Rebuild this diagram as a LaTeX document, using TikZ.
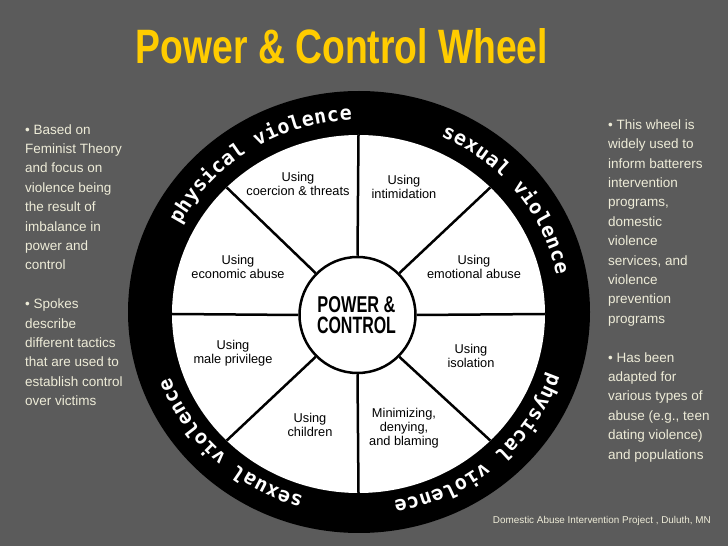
\documentclass[tikz,border=0pt]{standalone}
\usepackage{fontspec}
\setmainfont{Liberation Sans}
\newfontfamily\ringfont{DejaVu Sans Mono}
\usetikzlibrary{decorations.text}
\definecolor{bg}{HTML}{5B5B5B}
\definecolor{gold}{HTML}{FFCC00}
\definecolor{cream}{HTML}{EEECD8}
\begin{document}
\begin{tikzpicture}[x=1pt,y=1pt,
  side/.style={anchor=north west, inner sep=0, align=left, text=cream, font=\fontsize{13.5}{19.4}\selectfont},
  lbl/.style={align=center, inner sep=0, font=\fontsize{12.8}{14}\selectfont},
  spoke/.style={line width=2.5pt},
  ringtext/.style={decorate, decoration={text along path, text align={fit to path}, text={|\ringfont\bfseries\fontsize{20}{20}\selectfont\color{white}|#1}}}
]
\fill[bg] (0,0) rectangle (728,546);
\useasboundingbox (0,0) rectangle (728,546);

\node[text=gold, inner sep=0] (title) at (342,500.2) {\resizebox{412pt}{35pt}{\bfseries Power \& Control Wheel}};

\coordinate (oc) at (359,234);
\coordinate (ic) at (358.5,232);
\fill[black] (oc) ellipse [x radius=231pt, y radius=221pt];
\fill[white] (ic) ellipse [x radius=186.5pt, y radius=179pt];

\node[circle, draw, line width=2.5pt, fill=white, minimum size=116pt, inner sep=0] (hub) at (357.5,231) {};
\foreach \a in {0,45,...,315} {
  \coordinate (e\a) at ([shift={(\a:186.5pt and 179pt)}]ic);
  \draw[spoke] (hub.\a) -- (e\a);
}
\node[inner sep=0] (pw) at (356.5,241) {\resizebox{78pt}{16pt}{\bfseries POWER \&}};
\node[inner sep=0] (ct) at (356.5,221) {\resizebox{79pt}{16.5pt}{\bfseries CONTROL}};

\path[ringtext={physical violence}, shift={(oc)}] (153:201pt and 192pt) arc[start angle=153, end angle=92, x radius=201pt, y radius=192pt];
\path[ringtext={sexual violence}, shift={(oc)}] (66:201pt and 192pt) arc[start angle=66, end angle=11, x radius=201pt, y radius=192pt];
\path[ringtext={physical violence}, shift={(oc)}] (-18.5:201pt and 192pt) arc[start angle=-18.5, end angle=-80, x radius=201pt, y radius=192pt];
\path[ringtext={sexual violence}, shift={(oc)}] (-106:201pt and 192pt) arc[start angle=-106, end angle=-160, x radius=201pt, y radius=192pt];

\node[lbl] (l1) at (298,362.5) {Using\\coercion \& threats};
\node[lbl] (l2) at (404,359.3) {Using\\intimidation};
\node[lbl] (l3) at (238,279) {Using\\economic abuse};
\node[lbl] (l4) at (474,279.5) {Using\\emotional abuse};
\node[lbl] (l5) at (233,193) {Using\\male privilege};
\node[lbl] (l6) at (471,190) {Using\\isolation};
\node[lbl] (l7) at (310,121) {Using\\children};
\node[lbl] (l8) at (404,118.3) {Minimizing,\\denying,\\and blaming};

\node[side] (lt) at (25,421.8) {• Based on\\Feminist Theory\\and focus on\\violence being\\the result of\\imbalance in\\power and\\control\\[19.4pt]• Spokes\\describe\\different tactics\\that are used to\\establish control\\over victims};
\node[side] (rt) at (608,426.7) {• This wheel is\\widely used to\\inform batterers\\intervention\\programs,\\domestic\\violence\\services, and\\violence\\prevention\\programs\\[19.4pt]• Has been\\adapted for\\various types of\\abuse (e.g., teen\\dating violence)\\and populations};

\node[anchor=west, inner sep=0, text=cream, font=\fontsize{9.9}{11}\selectfont] (cr) at (492.7,25.3) {Domestic Abuse Intervention Project , Duluth, MN};
\end{tikzpicture}
\end{document}
